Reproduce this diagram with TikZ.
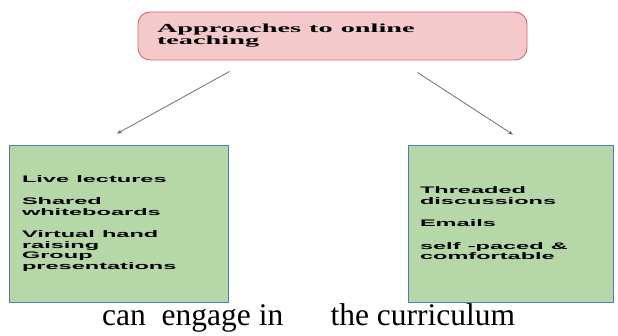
\documentclass[tikz,border=0pt]{standalone}
\usepackage{fontspec}
\setmainfont{Liberation Serif}
\newfontfamily\headfont{Liberation Serif}[FakeStretch=2.3]
\newfontfamily\itemfont{Liberation Sans}[FakeStretch=2.48]
\newcommand\headstyle{\headfont\bfseries\fontsize{12.3}{9}\selectfont}
\newcommand\itemstyle{\itemfont\bfseries\fontsize{9.5}{10.7}\selectfont}
\newcommand\wsp{\hspace{4pt} }
\definecolor{headPink}{RGB}{244,201,203}
\definecolor{headRed}{RGB}{217,104,108}
\definecolor{itemGreen}{RGB}{182,215,168}
\definecolor{itemBlue}{RGB}{84,124,178}
\definecolor{linkGray}{RGB}{110,110,110}
\usetikzlibrary{arrows.meta,positioning}

\tikzset{
  method/.style={rectangle, draw=itemBlue, fill=itemGreen, line width=0.8pt,
        minimum height=157pt, align=left, inner ysep=0pt, font=\itemstyle},
  link/.style={-{Stealth[length=5pt,width=4pt]}, linkGray, line width=0.8pt}
}

\begin{document}
\begin{tikzpicture}[x=1pt, y=-1pt]
  \useasboundingbox (0,0) rectangle (618,336);

  % heading
  \node[rectangle, rounded corners=12pt, draw=headRed, fill=headPink,
        line width=0.9pt, minimum height=48pt, text width=351pt,
        inner xsep=19pt, align=left, font=\headstyle] (top) at (332.5,36)
    {Approaches\wsp to\wsp online\\teaching};

  % the two ways
  \node[method, text width=193pt, inner xsep=13pt] (live) at (118.5,223.5)
    {Live\wsp lectures\\[11.5pt]Shared\\whiteboards\\[11.5pt]Virtual\wsp hand\\raising\\Group\\presentations};
  \node[method, text width=181pt, inner xsep=12pt] (async) at (510.5,223.5)
    {Threaded\\discussions\\[11.5pt]Emails\\[11.5pt]self\wsp -paced\wsp \&\\comfortable};

  \draw[link] ([xshift=92pt,yshift=-11pt]top.south west) -- ([xshift=-1.5pt,yshift=11pt]live.north);
  \draw[link] ([xshift=-110pt,yshift=-12pt]top.south east) -- ([xshift=2.5pt,yshift=10pt]async.north);

  \node[anchor=base west, inner sep=0pt, font=\fontsize{31.5}{36}\selectfont] (caption) at (102,326)
    {can~~engage in~~~~~~the curriculum};
\end{tikzpicture}
\end{document}
